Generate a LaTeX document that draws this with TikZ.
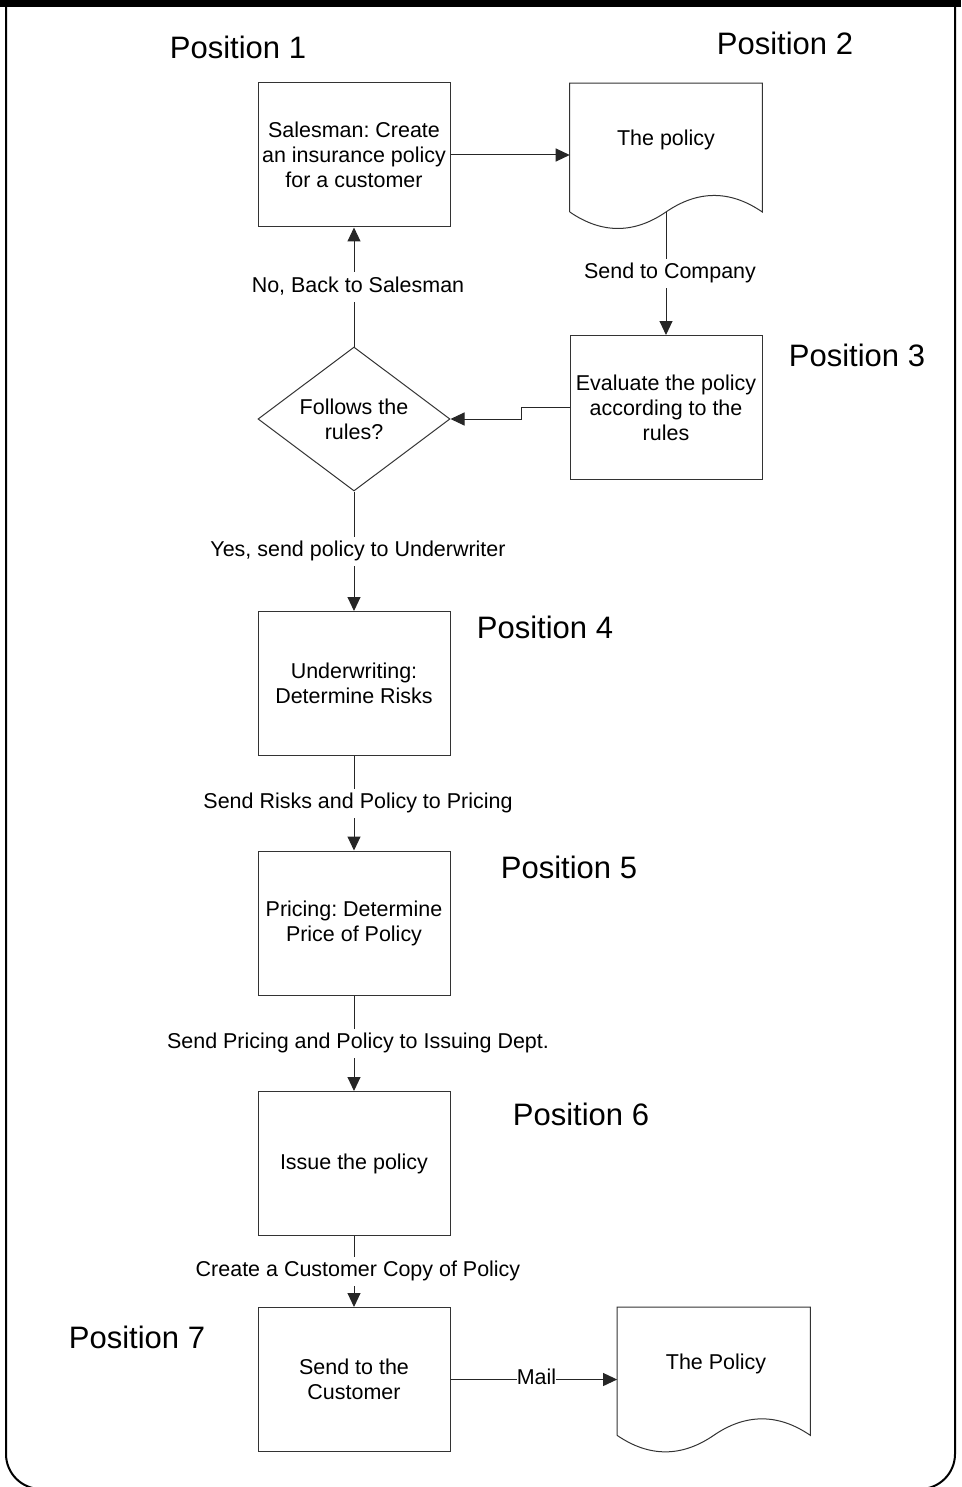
\documentclass[tikz,border=0pt]{standalone}
\usepackage{fontspec}
\setmainfont{Liberation Sans}
\usetikzlibrary{shapes.geometric,arrows.meta,calc}
\frenchspacing

\newcommand\boxfont{\fontsize{16.1pt}{18.75pt}\selectfont}
\newcommand\posfont{\fontsize{23.25pt}{28pt}\selectfont}

\tikzset{
  stepbox/.style={draw=black!80, line width=0.75pt, minimum width=144pt,
    minimum height=108pt, inner sep=0pt, align=center, font=\boxfont},
  decision/.style={diamond, draw=black!80, line width=0.75pt, minimum width=144pt,
    minimum height=108pt, aspect=1.333, inner sep=0pt, align=center, font=\boxfont},
  docarea/.style={minimum width=144pt, inner sep=0pt},
  docline/.style={draw=black!80, line width=0.75pt},
  doctext/.style={font=\boxfont, inner sep=0pt},
  conn/.style={draw=black!85, line width=0.75pt,
    -{Triangle[length=10.5pt,width=9.75pt]}},
  elabel/.style={fill=white, font=\boxfont, inner xsep=1pt, inner ysep=3.5pt,
    text height=11.5pt, text depth=3.5pt, midway, xshift=3pt},
  poslabel/.style={font=\posfont, inner sep=0pt},
}

\begin{document}
\begin{tikzpicture}[x=0.75pt, y=-0.75pt]
\useasboundingbox (0,0) rectangle (961,1487);

% frame
\fill[black] (0,0) rectangle (961,7.5);
\draw[line width=1.5pt, rounded corners=26.25pt] (6,0) -- (6,1489) -- (955,1489) -- (955,0);

% position captions
\node[poslabel] (p1) at (238,47) {Position 1};
\node[poslabel] (p2) at (785,43) {Position 2};
\node[poslabel] (p3) at (857,355) {Position 3};
\node[poslabel] (p4) at (545,627) {Position 4};
\node[poslabel] (p5) at (569,867) {Position 5};
\node[poslabel] (p6) at (581,1114) {Position 6};
\node[poslabel] (p7) at (137,1337) {Position 7};

% process steps
\node[stepbox] (b1) at (354,155) {Salesman: Create\\an insurance policy\\for a customer};
\node[stepbox] (b3) at (666,407.5) {Evaluate the policy\\according to the\\rules};
\node[decision] (dia) at (354,419) {Follows the\\rules?};
\node[stepbox] (b4) at (354,683.5) {Underwriting:\\Determine Risks};
\node[stepbox] (b5) at (354,923) {Pricing: Determine\\Price of Policy};
\node[stepbox] (b6) at (354,1163.5) {Issue the policy};
\node[stepbox] (b7) at (354,1379.5) {Send to the\\Customer};

% documents
\node[docarea, minimum height=96.3pt] (d1) at (666,147.5) {};
\draw[docline] (d1.south west) -- (d1.north west) -- (d1.north east) -- (d1.south east)
  .. controls +(-32,-22) and +(32,-22) .. (d1.south)
  .. controls +(-32,22) and +(32,22) .. (d1.south west);
\node[doctext] (d1t) at (666,140) {The policy};

\node[docarea, minimum width=144.5pt, minimum height=95.8pt] (d2) at (713.7,1371.2) {};
\draw[docline] (d2.south west) -- (d2.north west) -- (d2.north east) -- (d2.south east)
  .. controls +(-32,-22) and +(32,-22) .. (d2.south)
  .. controls +(-32,22) and +(32,22) .. (d2.south west);
\node[doctext] (d2t) at (716,1364) {The Policy};

% connectors
\draw[conn] (b1.east) -- (b1.east -| d1.west);
\draw[conn] (d1.south) -- node[elabel] {Send to Company} (b3.north);
\draw[conn] (b3.west) -- ++(-48,0) |- (dia.east);
\draw[conn] (dia.north) -- node[elabel] {No, Back to Salesman} (b1.south);
\draw[conn] (dia.south) -- node[elabel] {Yes, send policy to Underwriter} (b4.north);
\draw[conn] (b4.south) -- node[elabel] {Send Risks and Policy to Pricing} (b5.north);
\draw[conn] (b5.south) -- node[elabel] {Send Pricing and Policy to Issuing Dept.} (b6.north);
\draw[conn] (b6.south) -- node[elabel] {Create a Customer Copy of Policy} (b7.north);
\draw[conn] (b7.east) -- node[elabel, inner xsep=0pt, xshift=-1pt] {Mail} (b7.east -| d2.west);
\end{tikzpicture}
\end{document}
